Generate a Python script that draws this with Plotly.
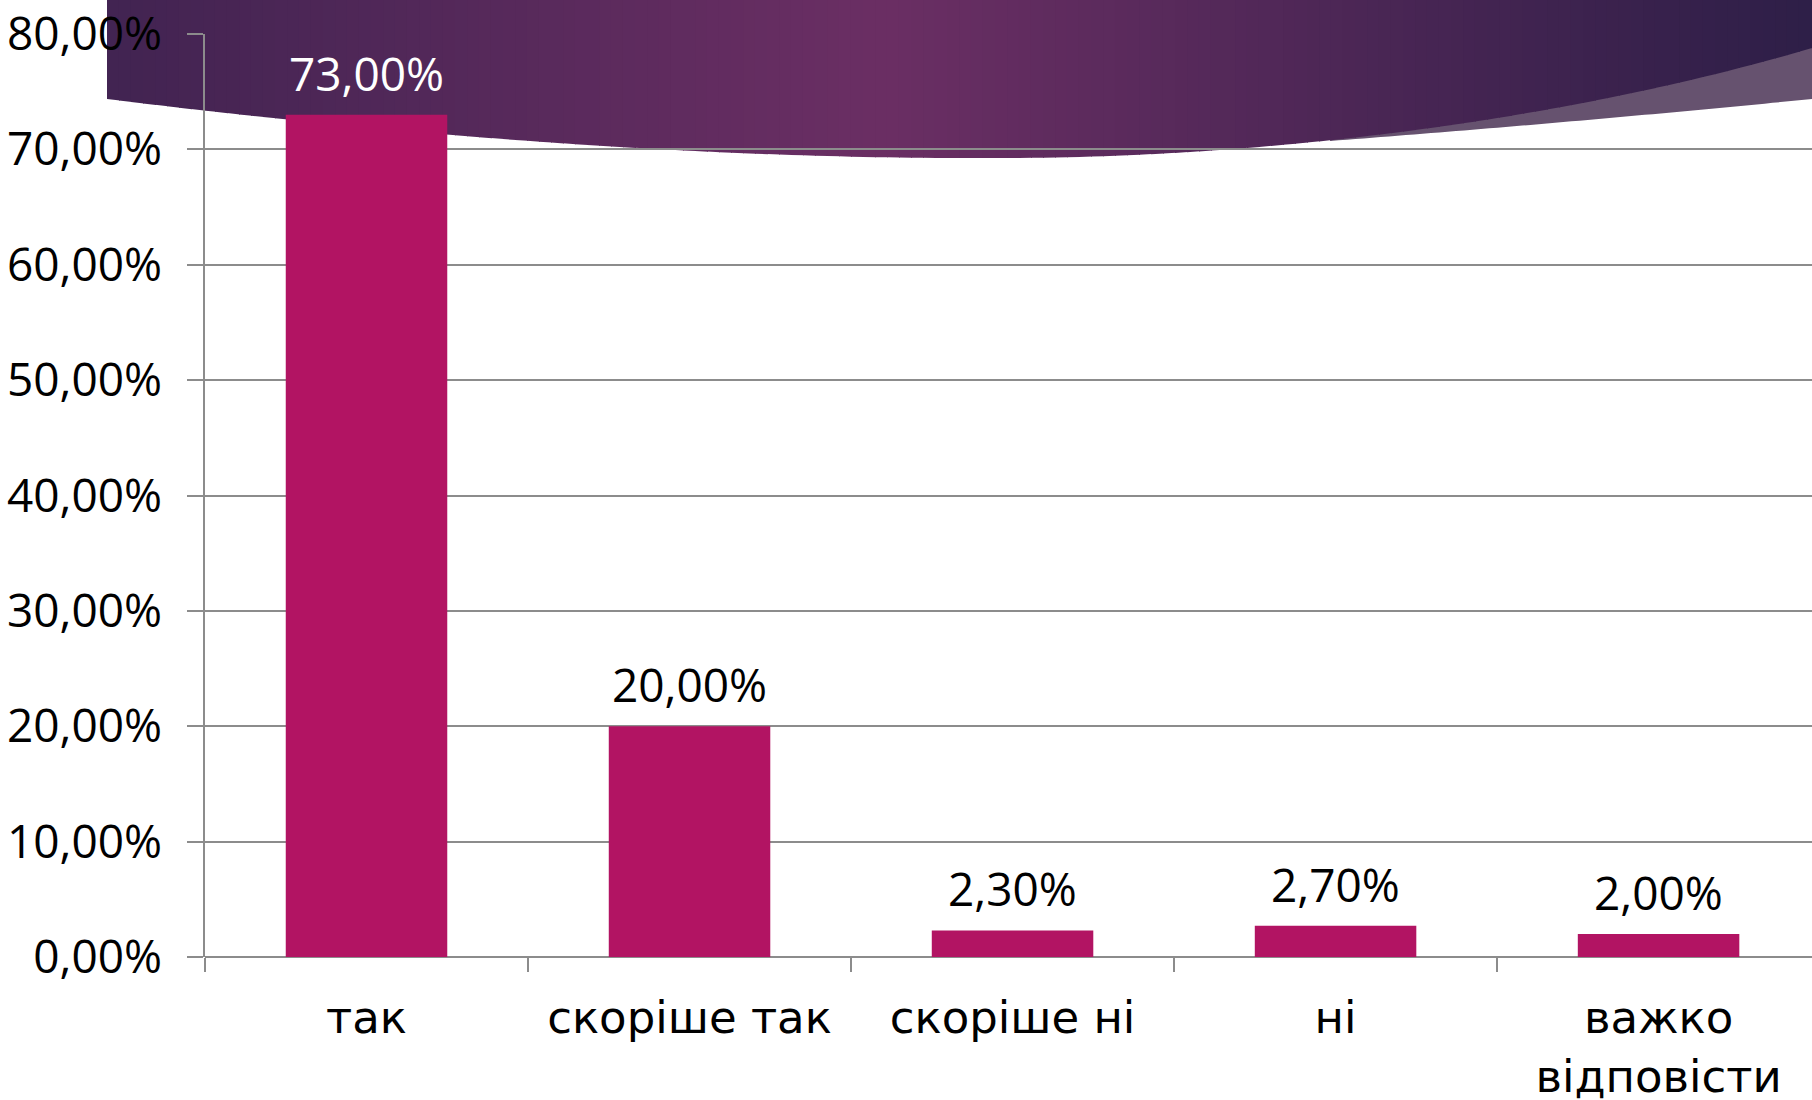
import numpy as np
import plotly.graph_objects as go

categories = ["так", "скоріше так", "скоріше ні", "ні", "важко<br>відповісти"]
values = [0.73, 0.20, 0.023, 0.027, 0.02]
label_colors = ["white", "black", "black", "black", "black"]
y_ticks = [0, 0.1, 0.2, 0.3, 0.4, 0.5, 0.6, 0.7, 0.8]

W, H = 1812, 1100
L, R, T, B = 205, 0, 34, 143
PW, PH = W - L - R, H - T - B
FONT = "Open Sans"
CAT_FONT = "DejaVu Sans"

def px2paper(x, y):
    return (x - L) / PW, (H - B - y) / PH

def bez(p, n=400):
    t = np.linspace(0, 1, n)[:, None]
    p = np.array(p, dtype=float)
    if len(p) == 3:
        return (1 - t) ** 2 * p[0] + 2 * (1 - t) * t * p[1] + t ** 2 * p[2]
    return ((1 - t) ** 3 * p[0] + 3 * (1 - t) ** 2 * t * p[1]
            + 3 * (1 - t) * t ** 2 * p[2] + t ** 3 * p[3])

# banner lower edge
c1 = bez([(107, 99), (600, 160), (1000, 158)])
c2 = bez([(1000, 158), (1250, 158), (1550, 125), (1812, 48)])
curve = np.vstack([c1, c2])
cx, cy = curve[:, 0], curve[:, 1]

def yb(x):
    return float(np.interp(x, cx, cy))

shapes = []

# lighter band on the right
band = bez([(1330, 141), (1580, 122), (1812, 99)], 60)
pts = [px2paper(x, y) for x, y in band]
path = "M " + " L ".join(f"{a:.5f},{b:.5f}" for a, b in pts)
a, b = px2paper(1812, 0)
c, d = px2paper(1330, 0)
path += f" L {a:.5f},{b:.5f} L {c:.5f},{d:.5f} Z"
shapes.append(dict(type="path", xref="paper", yref="paper", path=path,
                   fillcolor="#66526f", line=dict(width=0), layer="below"))

# dark gradient banner as vertical strips
stops_x = [107, 880, 1812]
stops_c = [(66, 36, 82), (107, 47, 100), (46, 31, 72)]
xs = np.arange(107, 1812, 12).tolist() + [1812]
for i in range(len(xs) - 1):
    x0, x1 = xs[i], xs[i + 1]
    xm = (x0 + x1) / 2
    col = [int(np.interp(xm, stops_x, [s[k] for s in stops_c])) for k in range(3)]
    x1e = min(x1 + 1, 1812)
    p = [px2paper(x0, -2), px2paper(x1e, -2), px2paper(x1e, yb(x1e)), px2paper(x0, yb(x0))]
    path = "M " + " L ".join(f"{a:.5f},{b:.5f}" for a, b in p) + " Z"
    shapes.append(dict(type="path", xref="paper", yref="paper", path=path,
                       fillcolor=f"rgb({col[0]},{col[1]},{col[2]})",
                       line=dict(width=0), layer="below"))

fig = go.Figure(go.Bar(
    x=categories, y=values,
    marker=dict(color="#B21463", line=dict(width=0)),
    width=0.5, hoverinfo="x+y",
))

annotations = []
for cat, v, col in zip(categories, values, label_colors):
    annotations.append(dict(
        x=cat, y=v, xref="x", yref="y",
        text=f"{v * 100:.2f}%".replace(".", ","),
        showarrow=False, yanchor="middle", yshift=42,
        font=dict(family=FONT, size=46, color=col),
    ))

fig.update_layout(
    width=W, height=H,
    margin=dict(l=L, r=R, t=T, b=B, pad=0, autoexpand=False),
    paper_bgcolor="white", plot_bgcolor="rgba(0,0,0,0)",
    separators=", ",
    showlegend=False,
    shapes=shapes,
    annotations=annotations,
    font=dict(family=FONT, color="black"),
    bargap=0.5,
)
fig.update_xaxes(
    range=[-0.5, 4.475], tickson="boundaries", ticks="outside", ticklen=14,
    tickcolor="#8c8c8c", tickwidth=1.5,
    showline=False, showgrid=False, automargin=False,
    tickfont=dict(family=CAT_FONT, size=45, color="black"),
    ticklabelstandoff=30,
)
fig.update_yaxes(
    range=[0, 0.8], tickvals=y_ticks, tickformat=".2%",
    ticks="outside", ticklen=16, tickcolor="#8c8c8c", tickwidth=1.5,
    showline=True, linecolor="#8c8c8c", linewidth=1.5,
    showgrid=True, gridcolor="#8c8c8c", gridwidth=1.5,
    zeroline=True, zerolinecolor="#8c8c8c", zerolinewidth=2,
    automargin=False,
    tickfont=dict(family=FONT, size=46, color="black"),
    ticklabelstandoff=16,
)

fig.write_html(
    "out.html",
    config={"displayModeBar": False},
    post_script="document.body.style.margin='0';document.body.style.overflow='hidden';",
)
